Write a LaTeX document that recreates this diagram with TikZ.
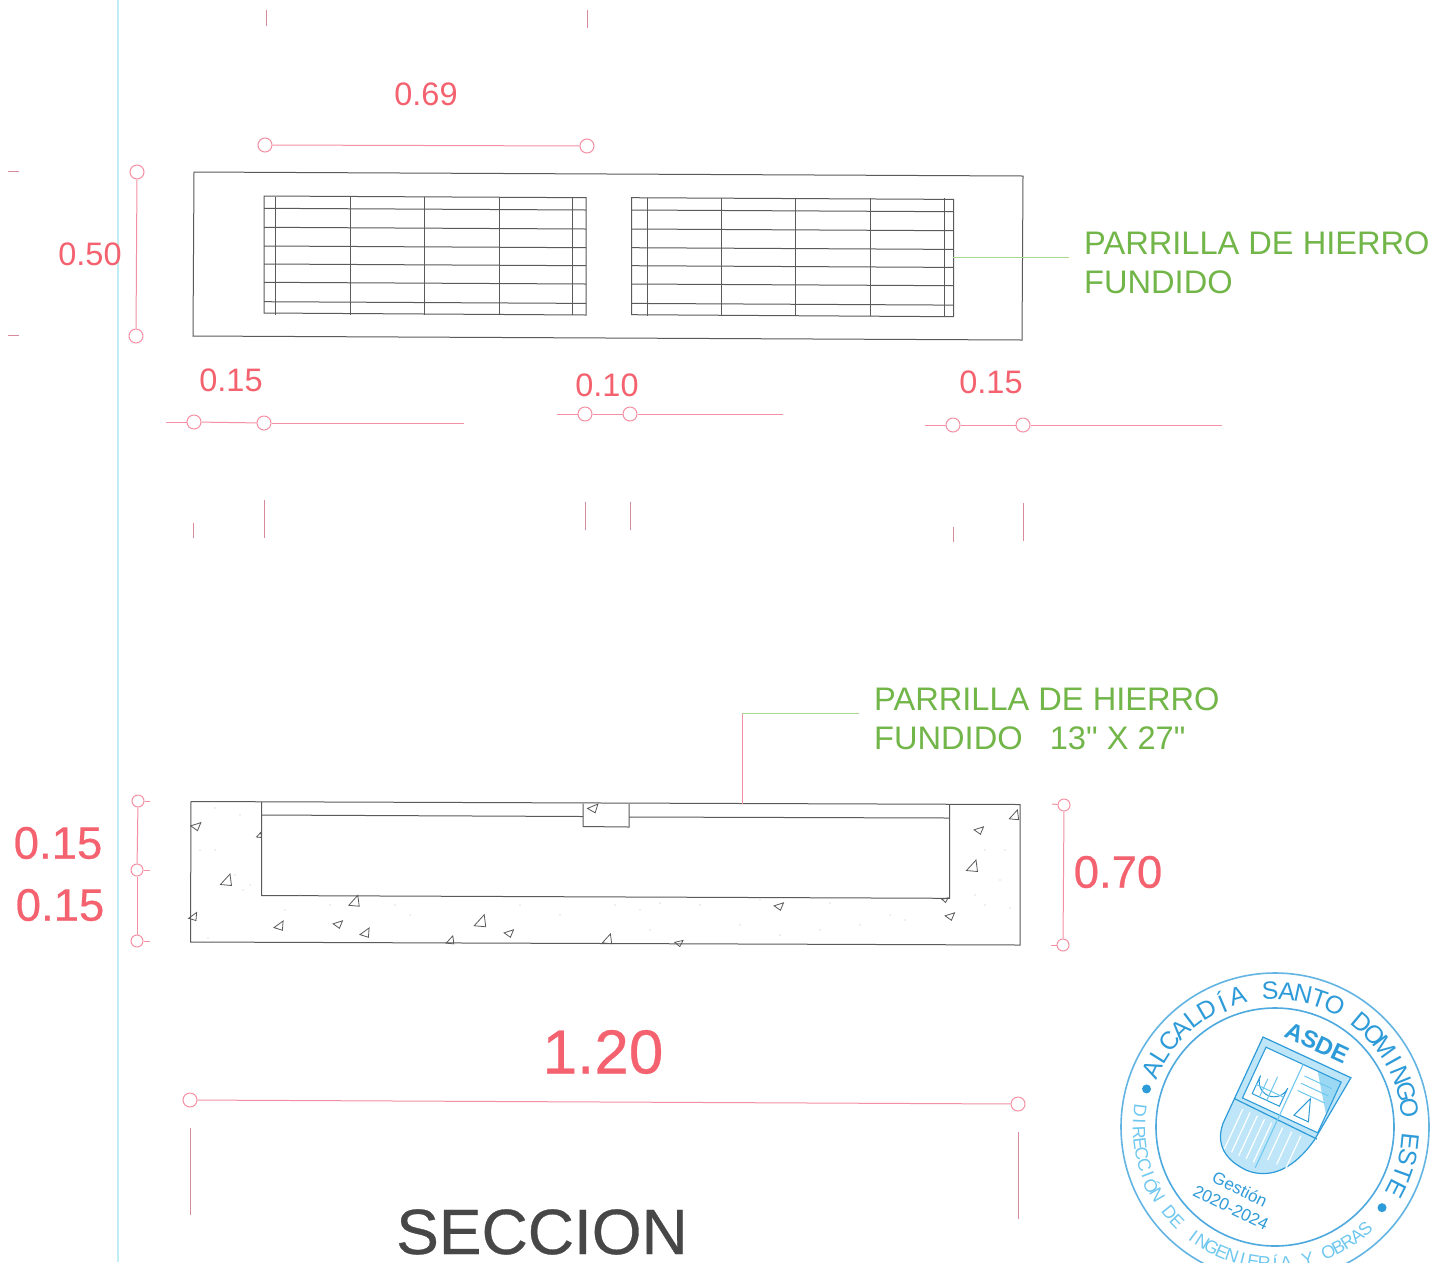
\documentclass[tikz,border=0pt]{standalone}
\usepackage{fontspec}
\setmainfont{Liberation Sans}
\newfontfamily\rawfont{Liberation Sans}
\definecolor{pinkline}{HTML}{F58FA3}
\definecolor{pinktext}{HTML}{F4626F}
\definecolor{greentext}{HTML}{72B548}
\definecolor{greenline}{HTML}{A8D98F}
\definecolor{cyanline}{HTML}{BDEEF4}
\definecolor{drawing}{HTML}{5A5A5A}
\definecolor{stampdark}{HTML}{2E9BD9}
\definecolor{stamplight}{HTML}{6FC8EF}
\newcommand{\fs}[1]{\fontsize{#1bp}{#1bp}\selectfont}
\newcommand{\heavy}{\addfontfeature{FakeBold=0.5}}
\tikzset{
  x=1bp,y=-1bp,
  dimc/.style={circle,draw=pinkline,line width=1bp,minimum size=14bp,inner sep=0pt},
  dimcs/.style={circle,draw=pinkline,line width=1bp,minimum size=12bp,inner sep=0pt},
  dimline/.style={draw=pinkline,line width=1bp},
  tick/.style={draw=pinkline!75!gray,line width=.9bp},
  ink/.style={draw=drawing,line width=1bp},
  aggr/.style={draw=drawing,line width=.8bp},
  dimsmall/.style={text=pinktext,font=\fs{32.5},inner sep=0pt},
  dimbig/.style={text=pinktext,font=\fs{45.5}\heavy,inner sep=0pt},
  note/.style={text=greentext,font=\fs{32.6},inner sep=0pt,anchor=base west},
  stampch/.style={text=stampdark,font=\fs{25},inner sep=0pt},
  stampchb/.style={text=stamplight,font=\fs{18},inner sep=0pt},
}
\newcommand{\agg}[4]{\draw[aggr,shift={(#1,#2)},rotate=#3,scale=#4] (-5.5,4.5) -- (4,-6) -- (5.5,5.5) -- cycle;}
\newcommand{\grating}[3]{%
  \begin{scope}[shift={(#1,#2)}]
    \draw[ink] (264,196) -- (586,197.7) -- (586,315) -- (264,313) -- cycle;
    \foreach \yy in {208.3,227.3,246,264,282.3,301.7}
      \draw[ink] (264,\yy) -- (586,\yy+1.7);
    \foreach \xx in {275.7,350,424.3,499,572.7}
      \draw[ink] (\xx+#3,196.5) -- (\xx+#3,314.5);
  \end{scope}}
\begin{document}
\begin{tikzpicture}
\useasboundingbox (0,0) rectangle (1448,1262);
\fill[white] (0,0) rectangle (1448,1262);
% cyan margin line
\coordinate (mt) at (118,0); \coordinate (mb) at (118,1262);
\draw[cyanline,line width=1.2bp] (mt) -- (mb);

% ---------- PLAN ----------
\draw[ink] (194,172) -- (1023,176) -- (1022,340) -- (193,336) -- cycle;
\grating{0}{0}{0}
\grating{367.5}{1.7}{4}

\coordinate (pl1) at (953,257); \coordinate (pl2) at (1069,257);
\draw[greenline,line width=1bp] (pl1) -- (pl2);
\node[note] (pn1) at (1084,254) {PARRILLA DE HIERRO};
\node[note] (pn2) at (1084,293) {FUNDIDO};

% 0.69
\node[dimsmall] (t069) at (426,94) {0.69};
\node[dimc] (a1) at (265,145) {}; \node[dimc] (a2) at (587,146) {};
\draw[dimline] (a1) -- (a2);
\draw[tick] (266,10) -- (266,26);
\draw[tick] (587,10) -- (587,28);

% 0.50
\node[dimsmall] (t050) at (90,254) {0.50};
\node[dimc] (b1) at (137,172) {}; \node[dimc] (b2) at (136,336) {};
\draw[dimline] (b1) -- (b2);
\draw[tick] (8,171) -- (19,171);
\draw[tick] (8,335) -- (19,335);

% 0.15 / 0.10 / 0.15
\node[dimsmall] (t015a) at (231,380) {0.15};
\node[dimc] (c1) at (194,422) {}; \node[dimc] (c2) at (264,423) {};
\coordinate (c0) at (166,422); \coordinate (c3) at (464,423);
\draw[dimline] (c0) -- (c1); \draw[dimline] (c1) -- (c2); \draw[dimline] (c2) -- (c3);

\node[dimsmall] (t010) at (607,385) {0.10};
\node[dimc] (d1) at (585,414) {}; \node[dimc] (d2) at (630,414) {};
\coordinate (d0) at (557,414); \coordinate (d3) at (783,414);
\draw[dimline] (d0) -- (d1); \draw[dimline] (d1) -- (d2); \draw[dimline] (d2) -- (d3);

\node[dimsmall] (t015b) at (991,382) {0.15};
\node[dimc] (e1) at (953,425) {}; \node[dimc] (e2) at (1023,425) {};
\coordinate (e0) at (925,425); \coordinate (e3) at (1222,425);
\draw[dimline] (e0) -- (e1); \draw[dimline] (e1) -- (e2); \draw[dimline] (e2) -- (e3);

\draw[tick] (193,523) -- (193,538);
\draw[tick] (264,500) -- (264,538);
\draw[tick] (585,502) -- (585,530);
\draw[tick] (630,502) -- (630,530);
\draw[tick] (953,527) -- (953,542);
\draw[tick] (1023,503) -- (1023,541);

% ---------- SECTION ----------
\draw[ink] (191,801.5) -- (1020,804.5) -- (1020,945) -- (190.5,942) -- cycle;
\draw[ink] (261.5,802) -- (261.5,895.5) -- (949.5,898.3) -- (949.5,804);
\draw[ink] (261.5,815) -- (583,816.5);
\draw[ink] (629,817) -- (949.5,818);
\draw[ink] (583,803.5) -- (583,826.5) -- (629,827) -- (629,804);

\agg{196}{825}{-30}{.75}
\agg{226}{880}{0}{1}
\agg{354}{901}{0}{.95}
\agg{593}{807}{-25}{.8}
\agg{193}{916}{-12}{.7}
\agg{279}{925}{-12}{.8}
\agg{338}{923}{-30}{.7}
\agg{365}{932}{-12}{.8}
\agg{450}{940}{0}{.7}
\agg{480}{921}{0}{1.05}
\agg{509}{932}{-30}{.7}
\agg{607}{939}{0}{.85}
\agg{679}{942}{-35}{.6}
\agg{779}{905}{-30}{.7}
\agg{950}{915}{-30}{.7}
\agg{979}{829}{-30}{.7}
\agg{972}{866}{0}{1}
\agg{1014}{815}{0}{.85}
\agg{945}{899}{-35}{.45}
\agg{259}{835}{0}{.45}
\foreach \px/\py in {215/808, 240/815, 200/850, 215/850, 235/875, 250/885, 243/890, 208/938, 285/910, 300/895, 330/905, 395/905, 410/915, 520/905, 560/915, 615/905, 640/910, 660/903, 700/905, 740/925, 780/935, 820/930, 860/925, 890/915, 905/920, 985/850, 1005/850, 1000/880, 985/905, 1010/908, 975/895, 650/930, 760/900, 830/903}
  {\fill[drawing!40] (\px,\py) circle (.6bp);}

% section dims
\node[dimbig] (t015c) at (58,843) {0.15};
\node[dimbig] (t015d) at (60,905) {0.15};
\node[dimcs] (f1) at (138,801) {}; \node[dimcs] (f2) at (137,870) {}; \node[dimcs] (f3) at (137,941) {};
\draw[dimline] (f1) -- (f2); \draw[dimline] (f2) -- (f3);
\coordinate (f1t) at (150,801); \coordinate (f2t) at (150,870); \coordinate (f3t) at (150,941);
\draw[dimline] (f1) -- (f1t); \draw[dimline] (f2) -- (f2t); \draw[dimline] (f3) -- (f3t);

\node[dimbig] (t070) at (1118,872) {0.70};
\node[dimcs] (g1) at (1064,805) {}; \node[dimcs] (g2) at (1063,945) {};
\draw[dimline] (g1) -- (g2);
\coordinate (g1t) at (1052,804); \coordinate (g2t) at (1051,945);
\draw[dimline] (g1) -- (g1t); \draw[dimline] (g2) -- (g2t);

% section note
\coordinate (s0) at (742,804); \coordinate (s1) at (742,713); \coordinate (s2) at (859,713);
\draw[dimline] (s0) -- (s1);
\draw[greenline,line width=1bp] (s1) -- (s2);
\node[note] (sn1) at (874,710) {PARRILLA DE HIERRO};
\node[note] (sn2) at (874,749) {{\rawfont FUNDIDO\ \ \ 13" X 27"}};

% 1.20
\node[text=pinktext,font=\fs{62}\heavy,inner sep=0pt] (t120) at (603,1052) {1.20};
\node[dimc] (h1) at (190,1100) {}; \node[dimc] (h2) at (1018,1104) {};
\draw[dimline] (h1) -- (h2);
\draw[tick] (190,1128) -- (190,1215);
\draw[tick] (1018,1132) -- (1018,1219);

% title
\node[text=black!72,font=\fs{64}\heavy,inner sep=0pt,anchor=base west] (title) at (396,1254) {SECCION};

% ---------- STAMP ----------
\begin{scope}[shift={(1275,1127)},x=1bp,y=1bp]
  \draw[stampdark,line width=1.6bp,opacity=.75] (0,0) circle (154);
  \draw[stampdark,line width=1.6bp,opacity=.85] (0,0) circle (119);
  \foreach \ch [count=\i] in {A,L,C,A,L,D,Í,A,*,S,A,N,T,O,*,D,O,M,I,N,G,O,*,E,S,T,E}{
    \pgfmathsetmacro{\ang}{155-(\i-1)*7.0}
    \pgfmathsetmacro{\rot}{\ang-90}
    \if*\ch\else
      \node[stampch,rotate=\rot] (top\i) at (\ang:136) {\ch};
    \fi
  }
  \foreach \ch [count=\i] in {D,I,R,E,C,C,I,Ó,N,*,D,E,*,I,N,G,E,N,I,E,R,Í,A,*,Y,*,O,B,R,A,S}{
    \pgfmathsetmacro{\ang}{173+(\i-1)*4.62}
    \pgfmathsetmacro{\rot}{\ang+90}
    \if*\ch\else
      \node[stampchb,rotate=\rot] (bot\i) at (\ang:136) {\ch};
    \fi
  }
  \fill[stampdark] (163.5:134) circle (4.5);
  \fill[stampdark] (-37:134) circle (4.5);
\end{scope}
% shield
\begin{scope}[shift={(1263,1037)},x={(.906bp,-.42bp)},y={(-.42bp,-.906bp)}]
  \path[fill=stamplight!45] (0,0) -- (97,0) -- (90,72)
     .. controls (84,105) and (68,126) .. (42,128)
     .. controls (18,128) and (2,118) .. (0,95) -- cycle;
  \fill[white] (7,8) -- (90,8) -- (90,64) -- (7,64) -- cycle;
  \fill[stamplight!70] (90,8) -- (90,44) -- (64,8) -- cycle;
  \draw[stampdark,line width=1.2bp] (0,0) -- (97,0) -- (90,72)
     .. controls (84,105) and (68,126) .. (42,128)
     .. controls (18,128) and (2,118) .. (0,95) -- cycle;
  \draw[stampdark,line width=1.1bp] (7,8) -- (90,8) -- (90,64) -- (7,64) -- cycle;
  \draw[stampdark,line width=1.2bp] (0,68) -- (92,70);
  \foreach \uu in {12,20,...,44} \draw[white,line width=1.2bp] (\uu,74) -- (\uu,118);
  \foreach \uu in {56,66,...,84} \draw[white,line width=1.2bp] (\uu,74) -- (\uu,110);
  \draw[stamplight,line width=1.1bp] (48,8) -- (48,122);
  \draw[stampdark,line width=1bp] (14,56) -- (14,36) arc (180:0:15) -- (44,56) -- cycle;
  \draw[stamplight,line width=1bp] (22,56) -- (22,36) (30,56) -- (30,30) (14,46) -- (44,46);
  \draw[stamplight,line width=1bp] (54,18) -- (84,18) (54,26) -- (84,26) (54,34) -- (84,34);
  \draw[stampdark,line width=1bp] (69,36) -- (61,58) -- (77,58) -- cycle;
\end{scope}
\node[text=stampdark,font=\fs{24}\bfseries,rotate=-25,inner sep=0pt] (asde) at (1317,1043) {ASDE};
\node[text=stampdark,font=\fs{17},rotate=-26,inner sep=0pt] (gest) at (1240,1189) {Gestión};
\node[text=stampdark,font=\fs{17},rotate=-26,inner sep=0pt] (gy) at (1231,1208) {2020-2024};
\end{tikzpicture}
\end{document}
